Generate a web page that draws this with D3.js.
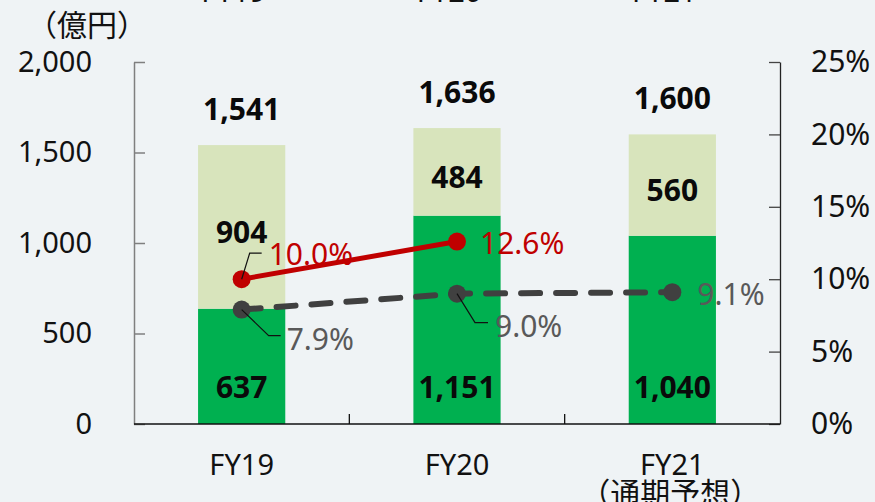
<!DOCTYPE html>
<html>
<head>
<meta charset="utf-8">
<script src="https://cdn.jsdelivr.net/npm/d3@7"></script>
<style>
  body { margin: 0; background: #eff3f5; }
  svg { display: block; }
  text { font-family: "Noto Sans", "Noto Sans CJK JP", sans-serif; }
</style>
</head>
<body>
<script>
// chart values
var categories = ["FY19", "FY20", "FY21"];
var categoryNotes = ["", "", "（通期予想）"];
var lowerValues = [637, 1151, 1040];
var upperValues = [904, 484, 560];
var totalValues = [1541, 1636, 1600];
var redRatio = [10.0, 12.6];
var grayRatio = [7.9, 9.0, 9.1];
var leftTicks = [0, 500, 1000, 1500, 2000];
var rightTicks = [0, 5, 10, 15, 20, 25];
var unitLabel = "（億円）";
var topCutLabels = ["FY19", "FY20", "FY21"];

var W = 875, H = 502;
// plot edges (not "top": that name is taken by window.top)
var plotL = 134, plotR = 780, plotT = 62, plotB = 424;

var svg = d3.select("body").append("svg")
  .attr("width", W)
  .attr("height", H);

var x = d3.scaleBand().domain(categories).range([plotL, plotR]).padding(0);
var y = d3.scaleLinear().domain([0, 2000]).range([plotB, plotT]);
var y2 = d3.scaleLinear().domain([0, 25]).range([plotB, plotT]);
var barW = x.bandwidth() * 0.405;
var cx = function(c){ return x(c) + x.bandwidth() / 2; };

// cut-off labels from the chart above
svg.append("g").selectAll("text")
  .data(topCutLabels)
  .enter().append("text")
  .attr("x", function(d, i){ return cx(categories[i]) - 8; })
  .attr("y", 2)
  .attr("text-anchor", "middle")
  .style("font-size", "29px")
  .style("fill", "#111")
  .text(function(d){ return d; });

// unit
svg.append("text")
  .attr("x", 27)
  .attr("y", 36)
  .style("font-size", "30px")
  .style("fill", "#111")
  .text(unitLabel);

// BARS
var bars = svg.append("g");
bars.selectAll("rect.lower")
  .data(categories)
  .enter().append("rect")
  .attr("class", "lower")
  .attr("x", function(d){ return cx(d) - barW / 2; })
  .attr("width", barW)
  .attr("y", function(d, i){ return y(lowerValues[i]); })
  .attr("height", function(d, i){ return y(0) - y(lowerValues[i]); })
  .style("fill", "#00b050");

bars.selectAll("rect.upper")
  .data(categories)
  .enter().append("rect")
  .attr("class", "upper")
  .attr("x", function(d){ return cx(d) - barW / 2; })
  .attr("width", barW)
  .attr("y", function(d, i){ return y(lowerValues[i] + upperValues[i]); })
  .attr("height", function(d, i){ return y(lowerValues[i]) - y(lowerValues[i] + upperValues[i]); })
  .style("fill", "#d8e4bc");

// LEFT AXIS
var axL = svg.append("g")
  .attr("transform", "translate(" + plotL + ",0)")
  .call(d3.axisLeft(y).tickValues(leftTicks).tickSizeInner(-11).tickSizeOuter(0)
    .tickPadding(42).tickFormat(d3.format(",")));
axL.select(".domain").attr("stroke", "#7f7f7f").attr("stroke-width", 1.5);
axL.selectAll(".tick line").attr("stroke", "#7f7f7f").attr("stroke-width", 1.5);
axL.selectAll("text").style("font-size", "29px").style("fill", "#111").attr("font-family", null);

// RIGHT AXIS
var axR = svg.append("g")
  .attr("transform", "translate(" + plotR + ",0)")
  .call(d3.axisRight(y2).tickValues(rightTicks).tickSizeInner(-11).tickSizeOuter(0)
    .tickPadding(31).tickFormat(function(d){ return d + "%"; }));
axR.select(".domain").attr("stroke", "#222").attr("stroke-width", 1.3);
axR.selectAll(".tick line").attr("stroke", "#444").attr("stroke-width", 1.3);
axR.selectAll("text").style("font-size", "30px").style("fill", "#111").attr("font-family", null);

// BOTTOM AXIS
svg.append("line")
  .attr("x1", plotL).attr("x2", plotR)
  .attr("y1", plotB).attr("y2", plotB)
  .attr("stroke", "#111").attr("stroke-width", 1.5);
svg.append("g").selectAll("line")
  .data(categories.slice(1))
  .enter().append("line")
  .attr("x1", function(d){ return x(d); })
  .attr("x2", function(d){ return x(d); })
  .attr("y1", plotB).attr("y2", plotB - 10)
  .attr("stroke", "#111").attr("stroke-width", 1.3);

svg.append("g").selectAll("text")
  .data(categories)
  .enter().append("text")
  .attr("x", function(d){ return cx(d); })
  .attr("y", 475)
  .attr("text-anchor", "middle")
  .style("font-size", "29px")
  .style("fill", "#111")
  .text(function(d){ return d; });
svg.append("g").selectAll("text")
  .data(categoryNotes)
  .enter().append("text")
  .attr("x", function(d, i){ return cx(categories[i]) - 2; })
  .attr("y", 504)
  .attr("text-anchor", "middle")
  .style("font-size", "30px")
  .style("fill", "#111")
  .text(function(d){ return d; });

// BAR LABELS
var fmt = d3.format(",");
var labels = svg.append("g")
  .style("font-size", "30px")
  .style("font-weight", "bold")
  .style("fill", "#0a0a0a")
  .attr("text-anchor", "middle");

labels.selectAll("text.total")
  .data(categories)
  .enter().append("text")
  .attr("x", cx)
  .attr("y", function(d, i){ return y(totalValues[i]) - 25; })
  .text(function(d, i){ return fmt(totalValues[i]); });

labels.selectAll("text.up")
  .data(categories)
  .enter().append("text")
  .attr("x", cx)
  .attr("y", function(d, i){
    return (y(lowerValues[i]) + y(lowerValues[i] + upperValues[i])) / 2 + 16;
  })
  .text(function(d, i){ return fmt(upperValues[i]); });

labels.selectAll("text.low")
  .data(categories)
  .enter().append("text")
  .attr("x", cx)
  .attr("y", y(0) - 26)
  .text(function(d, i){ return fmt(lowerValues[i]); });

// LINES
var grayPts = grayRatio.map(function(v, i){ return [cx(categories[i]), y2(v)]; });
var redPts = redRatio.map(function(v, i){ return [cx(categories[i]), y2(v)]; });

svg.append("path")
  .attr("d", d3.line()(grayPts))
  .attr("fill", "none")
  .attr("stroke", "#404040")
  .attr("stroke-width", 6)
  .attr("stroke-linecap", "round")
  .attr("stroke-dasharray", "19,16");
svg.append("g").selectAll("circle")
  .data(grayPts)
  .enter().append("circle")
  .attr("cx", function(d){ return d[0]; })
  .attr("cy", function(d){ return d[1]; })
  .attr("r", 9)
  .style("fill", "#404040");

svg.append("path")
  .attr("d", d3.line()(redPts))
  .attr("fill", "none")
  .attr("stroke", "#c00000")
  .attr("stroke-width", 5);
svg.append("g").selectAll("circle")
  .data(redPts)
  .enter().append("circle")
  .attr("cx", function(d){ return d[0]; })
  .attr("cy", function(d){ return d[1]; })
  .attr("r", 9)
  .style("fill", "#c00000");

// LINE LABELS + LEADERS (offsets from the point)
var redOff = [
  {dx: 27, dy: -14, lead: [[8, -26], [20, -26]]},
  {dx: 23, dy: 12}
];
var grayOff = [
  {dx: 45, dy: 40, lead: [[27, 26], [39, 26]]},
  {dx: 38, dy: 43, lead: [[18, 29], [31, 29]]},
  {dx: 25, dy: 13}
];

function drawLabels(pts, vals, offs, color){
  pts.forEach(function(p, i){
    var o = offs[i];
    if (o.lead) {
      var path = [p].concat(o.lead.map(function(q){ return [p[0] + q[0], p[1] + q[1]]; }));
      svg.append("path")
        .attr("d", d3.line()(path))
        .attr("fill", "none")
        .attr("stroke", "#111")
        .attr("stroke-width", 1.2);
    }
    svg.append("text")
      .attr("x", p[0] + o.dx)
      .attr("y", p[1] + o.dy)
      .style("font-size", "30px")
      .style("fill", color)
      .text(d3.format(".1f")(vals[i]) + "%");
  });
}
drawLabels(grayPts, grayRatio, grayOff, "#595959");
drawLabels(redPts, redRatio, redOff, "#c00000");
</script>
</body>
</html>
